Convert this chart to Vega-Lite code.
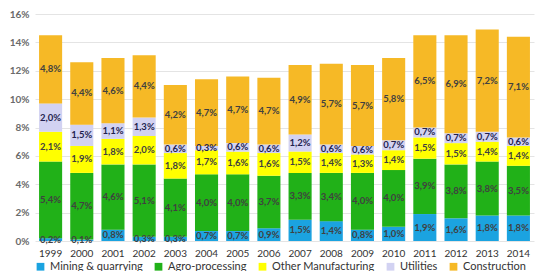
{
  "$schema": "https://vega.github.io/schema/vega-lite/v6.json",
  "width": 499,
  "height": 227,
  "autosize": {"type": "none"},
  "padding": {"left": 35, "top": 14, "right": 7, "bottom": 30},
  "background": "white",
  "config": {
    "font": "Lato",
    "view": {"stroke": null},
    "axisY": {
      "title": null,
      "labelOverlap": false,
      "domain": false,
      "ticks": false,
      "labelPadding": 6,
      "labelFontSize": 10,
      "labelFontWeight": "bold",
      "labelColor": "#6a6a6a",
      "gridColor": "#e4e4e4",
      "gridWidth": 1
    }
  },
  "data": {
    "values": [
      {"year": "1999", "sector": "Mining & quarrying", "share": 0.2},
      {"year": "1999", "sector": "Agro-processing", "share": 5.4},
      {"year": "1999", "sector": "Other Manufacturing", "share": 2.1},
      {"year": "1999", "sector": "Utilities", "share": 2.0},
      {"year": "1999", "sector": "Construction", "share": 4.8},
      {"year": "2000", "sector": "Mining & quarrying", "share": 0.1},
      {"year": "2000", "sector": "Agro-processing", "share": 4.7},
      {"year": "2000", "sector": "Other Manufacturing", "share": 1.9},
      {"year": "2000", "sector": "Utilities", "share": 1.5},
      {"year": "2000", "sector": "Construction", "share": 4.4},
      {"year": "2001", "sector": "Mining & quarrying", "share": 0.8},
      {"year": "2001", "sector": "Agro-processing", "share": 4.6},
      {"year": "2001", "sector": "Other Manufacturing", "share": 1.8},
      {"year": "2001", "sector": "Utilities", "share": 1.1},
      {"year": "2001", "sector": "Construction", "share": 4.6},
      {"year": "2002", "sector": "Mining & quarrying", "share": 0.3},
      {"year": "2002", "sector": "Agro-processing", "share": 5.1},
      {"year": "2002", "sector": "Other Manufacturing", "share": 2.0},
      {"year": "2002", "sector": "Utilities", "share": 1.3},
      {"year": "2002", "sector": "Construction", "share": 4.4},
      {"year": "2003", "sector": "Mining & quarrying", "share": 0.3},
      {"year": "2003", "sector": "Agro-processing", "share": 4.1},
      {"year": "2003", "sector": "Other Manufacturing", "share": 1.8},
      {"year": "2003", "sector": "Utilities", "share": 0.6},
      {"year": "2003", "sector": "Construction", "share": 4.2},
      {"year": "2004", "sector": "Mining & quarrying", "share": 0.7},
      {"year": "2004", "sector": "Agro-processing", "share": 4.0},
      {"year": "2004", "sector": "Other Manufacturing", "share": 1.7},
      {"year": "2004", "sector": "Utilities", "share": 0.3},
      {"year": "2004", "sector": "Construction", "share": 4.7},
      {"year": "2005", "sector": "Mining & quarrying", "share": 0.7},
      {"year": "2005", "sector": "Agro-processing", "share": 4.0},
      {"year": "2005", "sector": "Other Manufacturing", "share": 1.6},
      {"year": "2005", "sector": "Utilities", "share": 0.6},
      {"year": "2005", "sector": "Construction", "share": 4.7},
      {"year": "2006", "sector": "Mining & quarrying", "share": 0.9},
      {"year": "2006", "sector": "Agro-processing", "share": 3.7},
      {"year": "2006", "sector": "Other Manufacturing", "share": 1.6},
      {"year": "2006", "sector": "Utilities", "share": 0.6},
      {"year": "2006", "sector": "Construction", "share": 4.7},
      {"year": "2007", "sector": "Mining & quarrying", "share": 1.5},
      {"year": "2007", "sector": "Agro-processing", "share": 3.3},
      {"year": "2007", "sector": "Other Manufacturing", "share": 1.5},
      {"year": "2007", "sector": "Utilities", "share": 1.2},
      {"year": "2007", "sector": "Construction", "share": 4.9},
      {"year": "2008", "sector": "Mining & quarrying", "share": 1.4},
      {"year": "2008", "sector": "Agro-processing", "share": 3.4},
      {"year": "2008", "sector": "Other Manufacturing", "share": 1.4},
      {"year": "2008", "sector": "Utilities", "share": 0.6},
      {"year": "2008", "sector": "Construction", "share": 5.7},
      {"year": "2009", "sector": "Mining & quarrying", "share": 0.8},
      {"year": "2009", "sector": "Agro-processing", "share": 4.0},
      {"year": "2009", "sector": "Other Manufacturing", "share": 1.3},
      {"year": "2009", "sector": "Utilities", "share": 0.6},
      {"year": "2009", "sector": "Construction", "share": 5.7},
      {"year": "2010", "sector": "Mining & quarrying", "share": 1.0},
      {"year": "2010", "sector": "Agro-processing", "share": 4.0},
      {"year": "2010", "sector": "Other Manufacturing", "share": 1.4},
      {"year": "2010", "sector": "Utilities", "share": 0.7},
      {"year": "2010", "sector": "Construction", "share": 5.8},
      {"year": "2011", "sector": "Mining & quarrying", "share": 1.9},
      {"year": "2011", "sector": "Agro-processing", "share": 3.9},
      {"year": "2011", "sector": "Other Manufacturing", "share": 1.5},
      {"year": "2011", "sector": "Utilities", "share": 0.7},
      {"year": "2011", "sector": "Construction", "share": 6.5},
      {"year": "2012", "sector": "Mining & quarrying", "share": 1.6},
      {"year": "2012", "sector": "Agro-processing", "share": 3.8},
      {"year": "2012", "sector": "Other Manufacturing", "share": 1.5},
      {"year": "2012", "sector": "Utilities", "share": 0.7},
      {"year": "2012", "sector": "Construction", "share": 6.9},
      {"year": "2013", "sector": "Mining & quarrying", "share": 1.8},
      {"year": "2013", "sector": "Agro-processing", "share": 3.8},
      {"year": "2013", "sector": "Other Manufacturing", "share": 1.4},
      {"year": "2013", "sector": "Utilities", "share": 0.7},
      {"year": "2013", "sector": "Construction", "share": 7.2},
      {"year": "2014", "sector": "Mining & quarrying", "share": 1.8},
      {"year": "2014", "sector": "Agro-processing", "share": 3.5},
      {"year": "2014", "sector": "Other Manufacturing", "share": 1.4},
      {"year": "2014", "sector": "Utilities", "share": 0.6},
      {"year": "2014", "sector": "Construction", "share": 7.1}
    ]
  },
  "transform": [
    {"calculate": "indexof(['Mining & quarrying', 'Agro-processing', 'Other Manufacturing', 'Utilities', 'Construction'], datum.sector)", "as": "rank"},
    {"stack": "share", "groupby": ["year"], "sort": [{"field": "rank", "order": "ascending"}], "as": ["s0", "s1"]},
    {"calculate": "(datum.s0 + datum.s1) / 2", "as": "mid"},
    {"calculate": "replace(format(datum.share, '.1f'), '.', ',') + '%'", "as": "label"}
  ],
  "encoding": {
    "x": {
      "field": "year",
      "type": "ordinal",
      "scale": {"paddingInner": 0.26, "paddingOuter": 0.13},
      "axis": {
        "title": null,
        "labelAngle": 0,
        "domain": false,
        "ticks": false,
        "labelPadding": 7,
        "labelFontSize": 10,
        "labelColor": "#333333"
      }
    }
  },
  "layer": [
    {
      "mark": {"type": "bar"},
      "encoding": {
        "y": {
          "field": "s0",
          "type": "quantitative",
          "scale": {"domain": [0, 16], "nice": false},
          "axis": {
            "values": [0, 2, 4, 6, 8, 10, 12, 14, 16],
            "labelExpr": "datum.value + '%'"
          }
        },
        "y2": {"field": "s1"},
        "color": {
          "field": "sector",
          "type": "nominal",
          "scale": {
            "domain": ["Mining & quarrying", "Agro-processing", "Other Manufacturing", "Utilities", "Construction"],
            "range": ["#1ba3e0", "#21b118", "#ffff00", "#d2d2f2", "#f6b926"]
          },
          "legend": {
            "title": null,
            "orient": "bottom",
            "direction": "horizontal",
            "offset": 3,
            "symbolType": "square",
            "symbolSize": 60,
            "symbolStrokeWidth": 0,
            "labelFontSize": 11,
            "labelColor": "#333333",
            "columnPadding": 10
          }
        },
        "order": {"field": "rank", "type": "quantitative"}
      }
    },
    {
      "mark": {"type": "text", "fontSize": 9.5, "fontWeight": "bold", "baseline": "middle", "align": "center"},
      "encoding": {
        "y": {
          "field": "mid",
          "type": "quantitative",
          "scale": {"domain": [0, 16], "nice": false},
          "axis": {
            "values": [0, 2, 4, 6, 8, 10, 12, 14, 16],
            "labelExpr": "datum.value + '%'"
          }
        },
        "text": {"field": "label"},
        "color": {
          "condition": {"test": "datum.sector === 'Utilities'", "value": "#1f1f4f"},
          "value": "#404040"
        }
      }
    }
  ]
}
